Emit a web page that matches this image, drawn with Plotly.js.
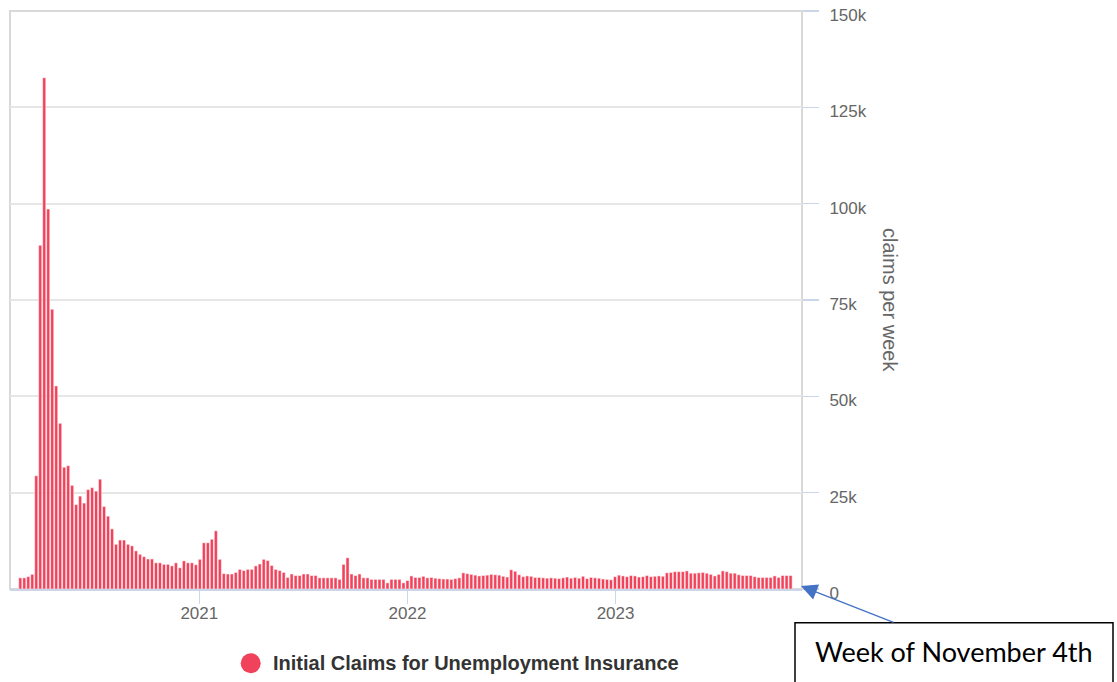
<!DOCTYPE html>
<html>
<head>
<meta charset="utf-8">
<script src="https://cdn.plot.ly/plotly-3.0.1.min.js"></script>
<style>
html,body{margin:0;padding:0;background:#fff;}
#chart{width:1117px;height:682px;}
</style>
</head>
<body>
<div id="chart"></div>
<script>
// Weekly initial claims, weeks ending on Saturdays, from 2020-02-22 to 2023-11-04
var firstWeekEnding = '2020-02-22';
var claims = [
  2900, 2900, 3200, 3800, 29400, 89200, 132700, 98600, 72600, 52700,
  43000, 31600, 32000, 26900, 21900, 24100, 22300, 25800, 26300, 25400,
  28500, 21400, 18900, 15600, 11600, 12700, 12700, 11600, 11200, 9900,
  9000, 8400, 7800, 7800, 6800, 6800, 6400, 6400, 6000, 6800,
  5500, 7300, 6800, 6800, 6300, 7700, 12000, 12000, 12900, 15100,
  7700, 4000, 3900, 3900, 4300, 5100, 4800, 5100, 5100, 6000,
  6500, 7700, 7400, 6100, 5100, 4800, 4300, 3000, 3900, 3500,
  3500, 3900, 3900, 3500, 3500, 2900, 2900, 2900, 2900, 2900,
  2500, 6400, 8100, 3900, 3500, 3900, 2900, 2900, 2500, 2500,
  2500, 2500, 1600, 2500, 2500, 2500, 1600, 2200, 3400, 3000,
  3000, 3300, 2900, 3000, 2800, 2700, 2600, 2600, 2500, 2700,
  2900, 4200, 4000, 3800, 3600, 3400, 3500, 3600, 3800, 3700,
  3600, 3300, 3100, 5000, 4600, 3700, 3200, 3400, 3300, 3000,
  3000, 2900, 2800, 2900, 2800, 2700, 2900, 3100, 2800, 3000,
  2800, 3300, 2700, 3000, 2900, 2800, 2600, 2500, 2400, 3200,
  3600, 3400, 3200, 3500, 3400, 3100, 3200, 3500, 3200, 3300,
  3400, 3300, 4200, 4300, 4500, 4500, 4500, 4700, 4100, 4100,
  4200, 4300, 4100, 3800, 3400, 3800, 4700, 4500, 4100, 4100,
  3700, 3500, 3500, 3500, 3200, 3000, 3000, 3000, 3000, 3400,
  3000, 3500, 3500, 3500
];
var yTickValues = [0, 25000, 50000, 75000, 100000, 125000, 150000];
var yTickLabels = ['0', '25k', '50k', '75k', '100k', '125k', '150k'];
var xTickValues = ['2021-01-01', '2022-01-01', '2023-01-01'];
var xTickLabels = ['2021', '2022', '2023'];
var seriesName = 'Initial Claims for Unemployment Insurance';
var yTitle = 'claims per week';
var noteText = 'Week of November 4th';

// one Saturday per value
var weeks = [];
(function(){
  var d = new Date(firstWeekEnding + 'T00:00:00Z');
  for (var i = 0; i < claims.length; i++) {
    weeks.push(new Date(d.getTime() + i * 7 * 86400000).toISOString().slice(0, 10));
  }
})();

var barColor = '#f0435b';
var WEEK_MS = 7 * 86400000;

// plot-area pixel geometry helpers (for paper-coordinate decorations)
var W = 1117, H = 682, L = 10, R = 315, T = 11, B = 93;
var PW = W - L - R, PH = H - T - B;
function px(x){ return (x - L) / PW; }
function py(y){ return (H - B - y) / PH; }

var trace = {
  type: 'bar',
  x: weeks,
  y: claims,
  name: seriesName,
  width: WEEK_MS * 0.78,
  marker: { color: barColor, line: { color: '#ffffff', width: 0.5 } },
  showlegend: false,
  hoverinfo: 'x+y'
};

var layout = {
  width: W, height: H,
  margin: { l: L, r: R, t: T, b: B },
  paper_bgcolor: '#ffffff',
  plot_bgcolor: '#ffffff',
  font: { family: '"Liberation Sans", Arial, sans-serif', color: '#666666' },
  showlegend: false,
  xaxis: {
    type: 'date',
    range: ['2020-02-04', '2023-11-24'],
    tickvals: xTickValues,
    ticktext: xTickLabels,
    ticks: 'outside',
    ticklen: 13,
    tickwidth: 1.5,
    tickcolor: '#ccd6eb',
    ticklabelstandoff: -5,
    showline: true,
    linecolor: '#ccd6eb',
    linewidth: 2,
    showgrid: false,
    zeroline: false,
    tickfont: { size: 17, color: '#666666' },
    fixedrange: true
  },
  yaxis: {
    side: 'right',
    range: [0, 150000],
    tickvals: yTickValues,
    ticktext: yTickLabels,
    ticks: 'outside',
    ticklen: 16,
    tickwidth: 1.5,
    tickcolor: '#ccd6eb',
    ticklabelstandoff: 7,
    ticklabelshift: 4,
    ticklabeloverflow: 'allow',
    showgrid: true,
    gridcolor: '#e6e6e6',
    gridwidth: 2,
    zeroline: false,
    showline: false,
    tickfont: { size: 17, color: '#666666' },
    fixedrange: true
  },
  shapes: [
    { type: 'rect', xref: 'paper', yref: 'paper', x0: 0, x1: 1, y0: 0, y1: 1,
      line: { color: '#d9d9d9', width: 2 }, layer: 'below' },
    { type: 'circle', xref: 'paper', yref: 'paper',
      x0: px(240.7), x1: px(260.7), y0: py(673.3), y1: py(653.3),
      fillcolor: barColor, line: { width: 0 } },
    { type: 'rect', xref: 'paper', yref: 'paper',
      x0: px(795), x1: px(1113), y0: py(710), y1: py(622.7),
      line: { color: '#000000', width: 1.5 }, fillcolor: 'rgba(0,0,0,0)' }
  ],
  annotations: [
    { xref: 'paper', yref: 'paper', x: px(890), y: 0.5, text: yTitle,
      textangle: 90, showarrow: false, xanchor: 'center', yanchor: 'middle',
      font: { size: 20, color: '#666666', family: '"Liberation Sans", Arial, sans-serif' } },
    { xref: 'paper', yref: 'paper', x: px(271), y: py(663.3), text: '<b>' + seriesName + '</b>',
      showarrow: false, xanchor: 'left', yanchor: 'middle',
      font: { size: 20, color: '#333333', family: '"Liberation Sans", Arial, sans-serif' } },
    { xref: 'paper', yref: 'paper', x: px(954), y: py(651.7), text: noteText,
      showarrow: false, xanchor: 'center', yanchor: 'middle',
      font: { size: 27, color: '#000000', family: 'Lato, "Liberation Sans", sans-serif' } },
    { xref: 'paper', yref: 'paper', x: px(801), y: py(586), text: '',
      showarrow: true, ax: 94, ay: 37, arrowhead: 2, arrowsize: 2.5, arrowwidth: 1.3,
      arrowcolor: '#4472c4', standoff: 0 }
  ]
};

Plotly.newPlot('chart', [trace], layout, { displayModeBar: false, staticPlot: true });
</script>
</body>
</html>
